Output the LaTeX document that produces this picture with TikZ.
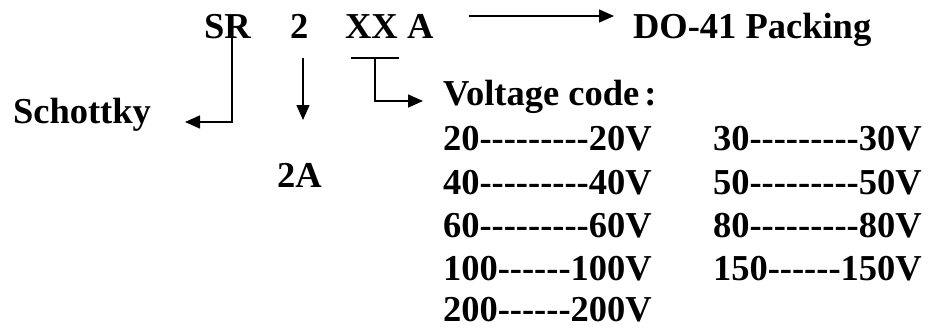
\documentclass[tikz,border=0pt]{standalone}
\usepackage{fontspec}
\setmainfont{Liberation Serif}[Ligatures=TeXOff]
\usetikzlibrary{arrows.meta}
\begin{document}
\begin{tikzpicture}[x=1pt,y=-1pt,
  lbl/.style={anchor=base west,inner sep=0pt,outer sep=0pt,font=\fontsize{36.5}{40}\selectfont\bfseries},
  conn/.style={line width=1.6pt,line cap=butt},
  arr/.style={conn,-{Triangle[length=15pt,width=13pt]}}]
\useasboundingbox (0,0) rectangle (929,329);
% top code
\node[lbl] (sr) at (204,39) {SR};
\node[lbl] (two) at (290,39) {2};
\node[lbl] (xx) at (345,39) {XX};
\node[lbl] (aa) at (407,39) {A};
\node[lbl] (do) at (633,39) {DO-41 Packing};
\node[lbl] (sch) at (13,123) {Schottky};
\node[lbl] (twoa) at (277,187) {2A};
\node[lbl] (volt) at (443,105) {Voltage code\hspace{5pt}:};
% voltage table
\node[lbl] (v20) at (443,150) {20---------20V};
\node[lbl] (v40) at (443,194) {40---------40V};
\node[lbl] (v60) at (443,237) {60---------60V};
\node[lbl] (v100) at (443,280) {100------100V};
\node[lbl] (v200) at (443,321) {200------200V};
\node[lbl] (v30) at (713,150) {30---------30V};
\node[lbl] (v50) at (713,194) {50---------50V};
\node[lbl] (v80) at (713,237) {80---------80V};
\node[lbl] (v150) at (713,280) {150------150V};
% connector points
\coordinate (srtop) at (232,28);
\coordinate (srtip) at (185,122);
\coordinate (twotop) at (303,58);
\coordinate (twotip) at (303,120);
\coordinate (barl) at (351,58);
\coordinate (barr) at (399,58);
\coordinate (barm) at (375,58);
\coordinate (volttip) at (423,101);
\coordinate (dostart) at (469,16);
\coordinate (dotip) at (614,16);
% connectors
\draw[arr] (srtop) |- (srtip);
\draw[arr] (twotop) -- (twotip);
\draw[conn] (barl) -- (barr);
\draw[arr] (barm) |- (volttip);
\draw[arr] (dostart) -- (dotip);
\end{tikzpicture}
\end{document}
